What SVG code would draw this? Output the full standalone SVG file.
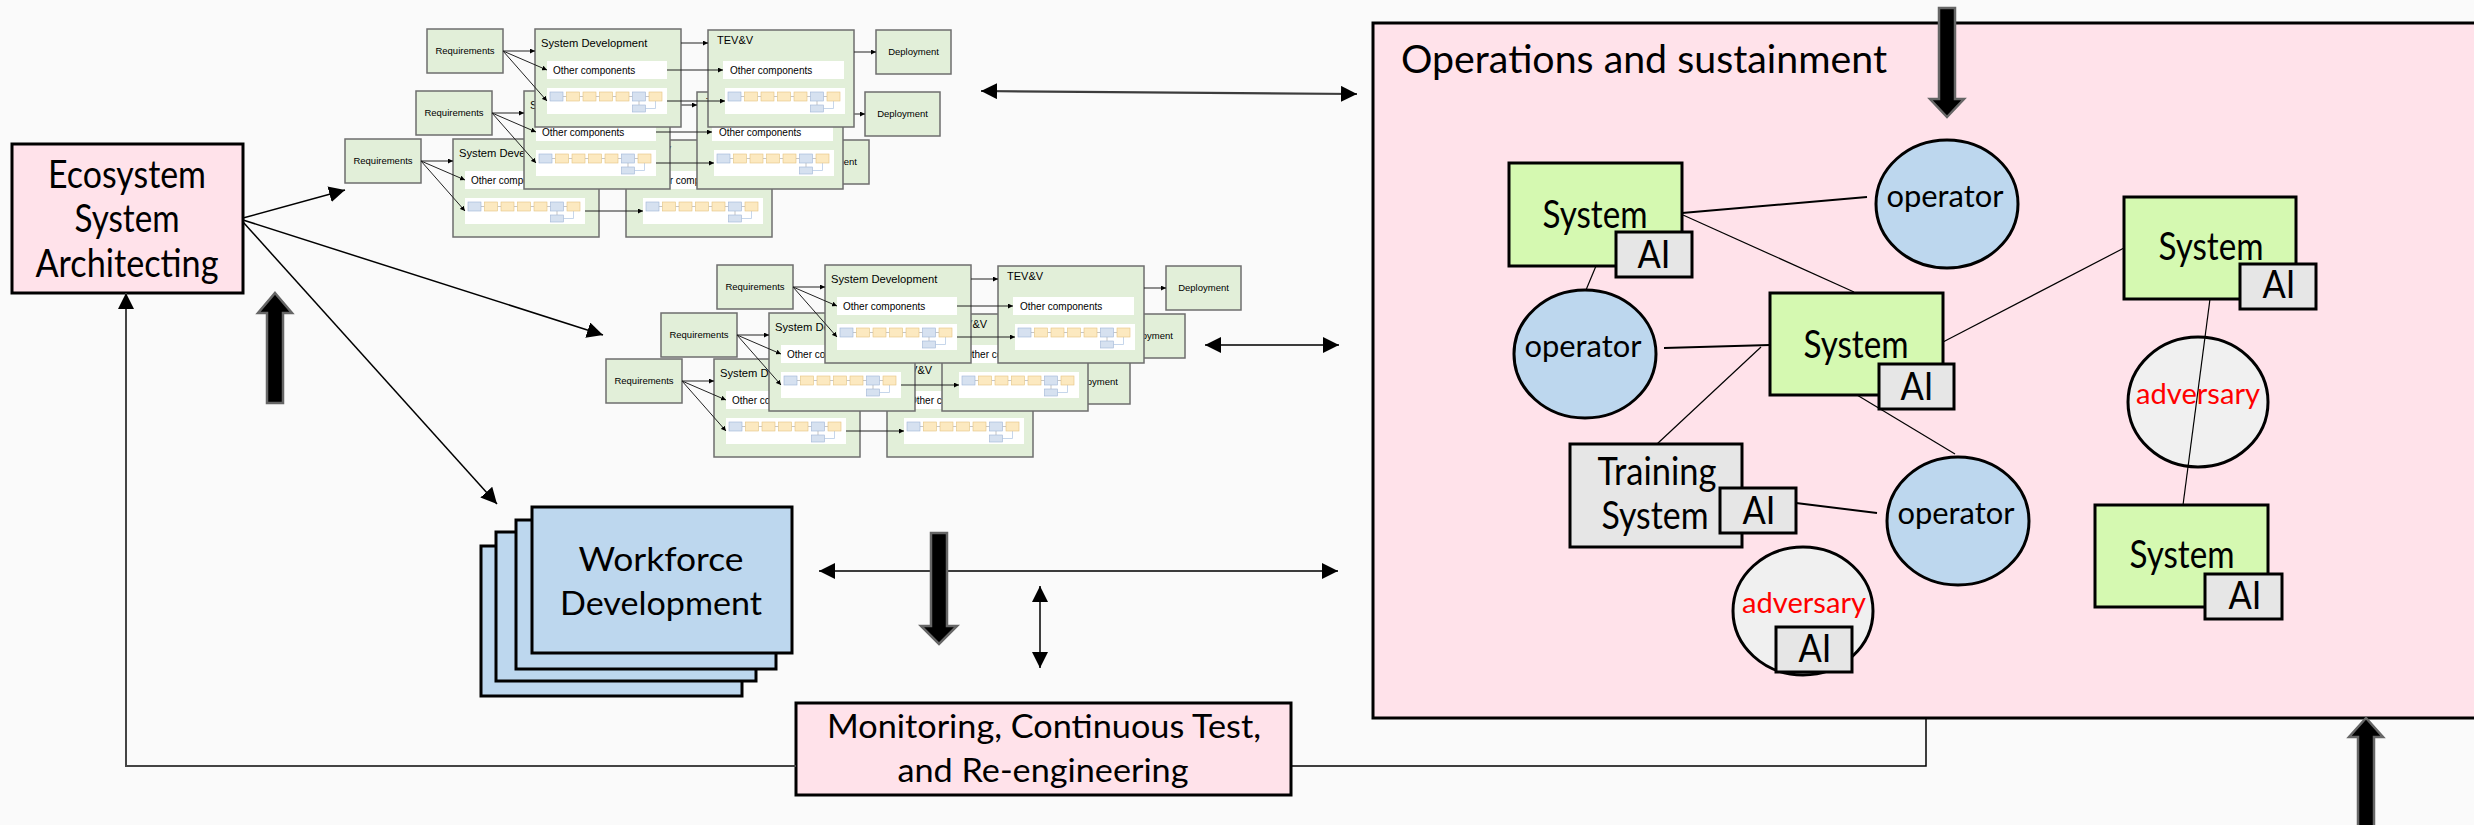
<svg xmlns="http://www.w3.org/2000/svg" xmlns:xlink="http://www.w3.org/1999/xlink" width="2474" height="825" viewBox="0 0 2474 825">
  <style>
    .t { font-family: Lato, "Liberation Sans", sans-serif; fill: #000; }
    .s { font-family: "Liberation Sans", Arial, sans-serif; fill: #000; }
    .box { stroke: #000; stroke-width: 3; }
    .pink { fill: #ffe2ea; }
    .sys { fill: #d5f9b1; }
    .ai { fill: #e6e6e6; }
    .op { fill: #bdd7ee; }
    .adv { fill: #f0f0f0; }
    .g { fill: #e2efd9; stroke: #6e6e6e; stroke-width: 1.5; }
    .w { fill: #fff; }
    .ln { fill: none; stroke: #000; stroke-width: 1.5; }
    .ln2 { fill: none; stroke: #000; stroke-width: 2; }
    .lt { fill: none; stroke: #000; stroke-width: 1.2; }
    .dbl { fill: none; stroke: #3c3c3c; stroke-width: 2.2; }
    .pa { fill: none; stroke: #222; stroke-width: 1; }
    .thick { fill: #000; stroke: #666; stroke-width: 2.5; }
    .mb { fill: #d6e1f0; stroke: #9fb4d6; stroke-width: 0.6; }
    .my { fill: #fce9c0; stroke: #e3c481; stroke-width: 0.6; }
    .ml { fill: none; stroke: #a0a0a0; stroke-width: 0.6; }
  </style>
  <defs>
    <marker id="ah" viewBox="0 0 16 16" refX="16" refY="8" markerWidth="16" markerHeight="16" markerUnits="userSpaceOnUse" orient="auto-start-reverse">
      <path d="M0,0 L16,8 L0,16 z" fill="#000"/>
    </marker>
    <marker id="ahs" viewBox="0 0 6 6" refX="6" refY="3" markerWidth="5" markerHeight="5" markerUnits="userSpaceOnUse" orient="auto">
      <path d="M0,0 L6,3 L0,6 z" fill="#000"/>
    </marker>

    <!-- tiny process chain shown inside each white strip -->
    <g id="mini">
      <path class="ml" d="M16,8.5 H19.5 M32.5,8.5 H36 M49,8.5 H52.5 M65.5,8.5 H69 M82,8.5 H85.5 M98.5,8.5 H102 M92,13 V17"/>
      <path d="M98.5,20.5 H108.5 V13" fill="none" stroke="#b8cbe6" stroke-width="0.8"/>
      <rect class="mb" x="3" y="4" width="13" height="9"/>
      <rect class="my" x="19.5" y="4" width="13" height="9"/>
      <rect class="my" x="36" y="4" width="13" height="9"/>
      <rect class="my" x="52.5" y="4" width="13" height="9"/>
      <rect class="my" x="69" y="4" width="13" height="9"/>
      <rect class="mb" x="85.5" y="4" width="13" height="9"/>
      <rect class="my" x="102" y="4" width="13" height="9"/>
      <rect class="mb" x="85.5" y="17" width="13" height="7"/>
    </g>

    <!-- one requirements-to-deployment pipeline -->
    <g id="pipe">
      <rect class="g" x="0" y="0" width="76" height="44"/>
      <text class="s" x="38" y="25" font-size="9.5" text-anchor="middle">Requirements</text>
      <rect class="g" x="108" y="0" width="146" height="98"/>
      <text class="s" x="114" y="18" font-size="11.2">System Development</text>
      <rect class="w" x="120" y="32" width="120" height="18"/>
      <text class="s" x="126" y="45" font-size="10">Other components</text>
      <rect class="w" x="120" y="59" width="120" height="26"/>
      <use xlink:href="#mini" x="120" y="59"/>
      <rect class="g" x="281" y="1" width="146" height="97"/>
      <text class="s" x="290" y="15" font-size="11">TEV&amp;V</text>
      <rect class="w" x="296" y="32" width="121" height="18"/>
      <text class="s" x="303" y="45" font-size="10">Other components</text>
      <rect class="w" x="298" y="59" width="120" height="26"/>
      <use xlink:href="#mini" x="298" y="59"/>
      <rect class="g" x="449" y="1" width="75" height="44"/>
      <text class="s" x="486.5" y="26" font-size="9.5" text-anchor="middle">Deployment</text>
      <path class="pa" marker-end="url(#ahs)" d="M76,22 H108"/>
      <path class="pa" marker-end="url(#ahs)" d="M76,22 L120,41"/>
      <path class="pa" marker-end="url(#ahs)" d="M76,22 L120,72"/>
      <path class="pa" marker-end="url(#ahs)" d="M254,14 H281"/>
      <path class="pa" marker-end="url(#ahs)" d="M240,41 H296"/>
      <path class="pa" marker-end="url(#ahs)" d="M240,72 H298"/>
      <path class="pa" marker-end="url(#ahs)" d="M427,23 H449"/>
    </g>
  </defs>

  <rect x="0" y="0" width="2474" height="825" fill="#fafafa"/>

  <!-- Operations and sustainment area -->
  <g id="operations">
    <rect class="box pink" x="1373" y="23" width="1130" height="695"/>
    <text class="t" x="1401" y="73" font-size="38" textLength="486" lengthAdjust="spacingAndGlyphs">Operations and sustainment</text>
  </g>

  <g id="ecosystem-architecting">
    <rect class="box pink" x="12" y="144" width="231" height="149"/>
    <text class="t" x="127" y="188" font-size="38" text-anchor="middle" textLength="158" lengthAdjust="spacingAndGlyphs">Ecosystem</text>
    <text class="t" x="127" y="232" font-size="38" text-anchor="middle" textLength="105" lengthAdjust="spacingAndGlyphs">System</text>
    <text class="t" x="127" y="277" font-size="38" text-anchor="middle" textLength="183" lengthAdjust="spacingAndGlyphs">Architecting</text>
  </g>

  <g id="pipelines-upper">
    <use xlink:href="#pipe" x="345" y="139"/>
    <use xlink:href="#pipe" x="416" y="91"/>
    <use xlink:href="#pipe" x="427" y="29"/>
  </g>

  <g id="pipelines-lower">
    <use xlink:href="#pipe" x="606" y="359"/>
    <use xlink:href="#pipe" x="661" y="313"/>
    <use xlink:href="#pipe" x="717" y="265"/>
  </g>

  <g id="workforce-development">
    <rect class="box op" x="481" y="546" width="261" height="150"/>
    <rect class="box op" x="496" y="532" width="260" height="149"/>
    <rect class="box op" x="516" y="520" width="260" height="149"/>
    <rect class="box op" x="532" y="507" width="260" height="146"/>
    <text class="t" x="661" y="571" font-size="33" text-anchor="middle" textLength="165" lengthAdjust="spacingAndGlyphs">Workforce</text>
    <text class="t" x="661" y="615" font-size="33" text-anchor="middle" textLength="202" lengthAdjust="spacingAndGlyphs">Development</text>
  </g>

  <g id="monitoring">
    <rect class="box pink" x="796" y="703" width="495" height="92"/>
    <text class="t" x="1044" y="738" font-size="32" text-anchor="middle" textLength="434" lengthAdjust="spacingAndGlyphs">Monitoring, Continuous Test,</text>
    <text class="t" x="1043" y="782" font-size="32" text-anchor="middle" textLength="291" lengthAdjust="spacingAndGlyphs">and Re-engineering</text>
  </g>

  <g id="system-1">
    <rect class="box sys" x="1509" y="163" width="173" height="103"/>
    <text class="t" x="1595" y="228" font-size="38" text-anchor="middle" textLength="105" lengthAdjust="spacingAndGlyphs">System</text>
    <rect class="box ai" x="1616" y="232" width="76" height="45"/>
    <text class="t" x="1654" y="268" font-size="39" text-anchor="middle" textLength="33" lengthAdjust="spacingAndGlyphs">AI</text>
  </g>

  <g id="operator-1">
    <ellipse class="box op" cx="1947" cy="204" rx="71" ry="64"/>
    <text class="t" x="1945" y="207" font-size="30" text-anchor="middle" textLength="117" lengthAdjust="spacingAndGlyphs">operator</text>
  </g>

  <g id="operator-2">
    <ellipse class="box op" cx="1585" cy="354" rx="71" ry="64"/>
    <text class="t" x="1583" y="357" font-size="30" text-anchor="middle" textLength="117" lengthAdjust="spacingAndGlyphs">operator</text>
  </g>

  <g id="system-2">
    <rect class="box sys" x="1770" y="293" width="173" height="102"/>
    <text class="t" x="1856" y="358" font-size="38" text-anchor="middle" textLength="105" lengthAdjust="spacingAndGlyphs">System</text>
    <rect class="box ai" x="1879" y="364" width="75" height="45"/>
    <text class="t" x="1917" y="400" font-size="39" text-anchor="middle" textLength="33" lengthAdjust="spacingAndGlyphs">AI</text>
  </g>

  <g id="system-3">
    <rect class="box sys" x="2124" y="197" width="172" height="102"/>
    <text class="t" x="2211" y="260" font-size="38" text-anchor="middle" textLength="105" lengthAdjust="spacingAndGlyphs">System</text>
    <rect class="box ai" x="2240" y="264" width="76" height="45"/>
    <text class="t" x="2279" y="298" font-size="39" text-anchor="middle" textLength="33" lengthAdjust="spacingAndGlyphs">AI</text>
  </g>

  <g id="adversary-1">
    <ellipse class="box adv" cx="2198" cy="402" rx="70" ry="65"/>
    <text class="t" x="2198" y="404" font-size="29" fill="#ff0000" style="fill:#ff0000" text-anchor="middle" textLength="124" lengthAdjust="spacingAndGlyphs">adversary</text>
  </g>

  <g id="training-system">
    <rect class="box ai" x="1570" y="444" width="172" height="103"/>
    <text class="t" x="1657" y="485" font-size="38" text-anchor="middle" textLength="119" lengthAdjust="spacingAndGlyphs">Training</text>
    <text class="t" x="1655" y="529" font-size="38" text-anchor="middle" textLength="107" lengthAdjust="spacingAndGlyphs">System</text>
    <rect class="box ai" x="1720" y="488" width="76" height="45"/>
    <text class="t" x="1759" y="524" font-size="39" text-anchor="middle" textLength="33" lengthAdjust="spacingAndGlyphs">AI</text>
  </g>

  <g id="operator-3">
    <ellipse class="box op" cx="1958" cy="521" rx="71" ry="64"/>
    <text class="t" x="1956" y="524" font-size="30" text-anchor="middle" textLength="117" lengthAdjust="spacingAndGlyphs">operator</text>
  </g>

  <g id="adversary-2">
    <ellipse class="box adv" cx="1803" cy="611" rx="70" ry="64"/>
    <text class="t" x="1804" y="613" font-size="29" style="fill:#ff0000" text-anchor="middle" textLength="124" lengthAdjust="spacingAndGlyphs">adversary</text>
    <rect class="box ai" x="1776" y="627" width="76" height="45"/>
    <text class="t" x="1815" y="662" font-size="39" text-anchor="middle" textLength="33" lengthAdjust="spacingAndGlyphs">AI</text>
  </g>

  <g id="system-4">
    <rect class="box sys" x="2095" y="505" width="173" height="102"/>
    <text class="t" x="2182" y="568" font-size="38" text-anchor="middle" textLength="105" lengthAdjust="spacingAndGlyphs">System</text>
    <rect class="box ai" x="2205" y="574" width="77" height="45"/>
    <text class="t" x="2245" y="609" font-size="39" text-anchor="middle" textLength="33" lengthAdjust="spacingAndGlyphs">AI</text>
  </g>

  <g id="connectors">
    <!-- architecting fans out to pipelines and workforce -->
    <path class="ln" marker-end="url(#ah)" d="M243,218 L345,190"/>
    <path class="ln" marker-end="url(#ah)" d="M243,220 L603,335"/>
    <path class="ln" marker-end="url(#ah)" d="M243,222 L497,504"/>

    <!-- feedback loop from operations back to architecting -->
    <path class="ln" d="M1926,718 V766 H1291"/>
    <path fill="none" stroke="#444" stroke-width="2" marker-end="url(#ah)" d="M796,766 H126 V293"/>

    <!-- two-way exchanges with operations -->
    <path class="dbl" marker-start="url(#ah)" marker-end="url(#ah)" d="M981,91 L1357,94"/>
    <path class="dbl" marker-start="url(#ah)" marker-end="url(#ah)" d="M1205,345 H1339"/>
    <path class="dbl" marker-start="url(#ah)" marker-end="url(#ah)" d="M819,571 H1338"/>
    <path class="ln" marker-start="url(#ah)" marker-end="url(#ah)" d="M1040,586 V668"/>

    <!-- links inside operations -->
    <path class="ln2" d="M1682,213 L1867,197"/>
    <path class="lt" d="M1683,215 L1854,292"/>
    <path class="lt" d="M1596,266 L1586,290"/>
    <path class="ln2" d="M1664,348 L1770,345"/>
    <path class="lt" d="M1761,347 L1657,444"/>
    <path class="lt" d="M1943,342 L2124,248"/>
    <path class="lt" d="M1857,395 L1955,454"/>
    <path class="lt" d="M2210,299 L2183,505"/>
    <path class="ln2" d="M1796,503 L1877,513"/>

    <!-- block arrows -->
    <polygon class="thick" points="275,293 292,313 283,313 283,403 267,403 267,313 258,313"/>
    <polygon class="thick" points="1939,8 1955,8 1955,99 1964,99 1947,117 1930,99 1939,99"/>
    <polygon class="thick" points="931,533 947,533 947,626 957,626 939,644 921,626 931,626"/>
    <polygon class="thick" points="2366,718 2383,737 2374,737 2374,832 2358,832 2358,737 2349,737"/>
  </g>
</svg>
